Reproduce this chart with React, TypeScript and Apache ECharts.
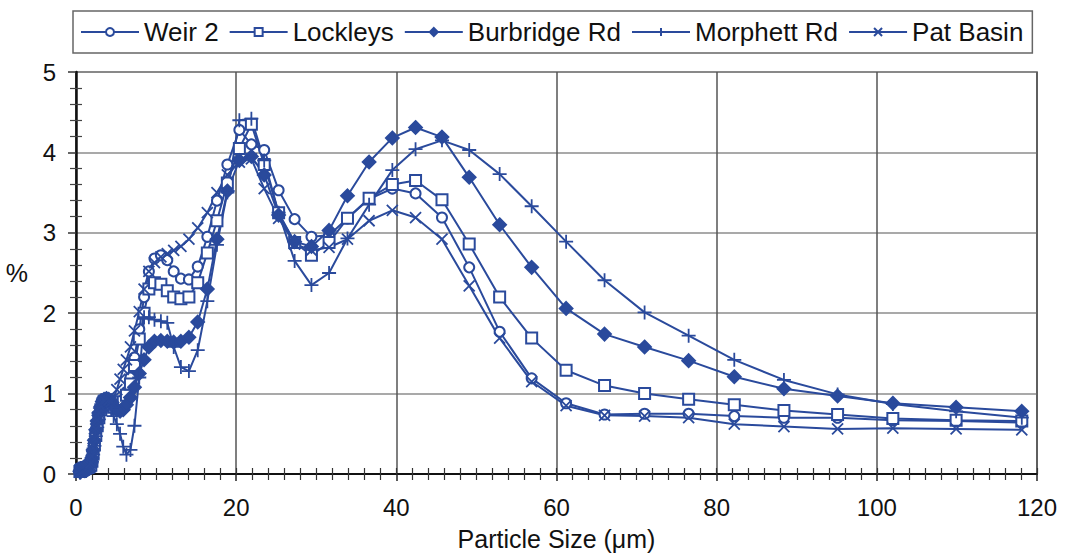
import React, { useEffect, useRef } from "react";
import * as echarts from "echarts";

// Particle size bins (µm)
const sizes: number[] = [
  0.5, 0.54, 0.58, 0.62, 0.67, 0.72, 0.78, 0.84, 0.9, 0.97,
  1.04, 1.12, 1.2, 1.29, 1.39, 1.49, 1.6, 1.72, 1.85, 1.99,
  2.14, 2.3, 2.47, 2.65, 2.85, 3.1, 3.3, 3.5, 3.8, 4.1,
  4.4, 4.7, 5.1, 5.5, 5.9, 6.3, 6.8, 7.3, 7.9, 8.5,
  9.1, 9.8, 10.6, 11.4, 12.2, 13.1, 14.1, 15.2, 16.4, 17.6,
  18.9, 20.4, 21.9, 23.5, 25.3, 27.3, 29.4, 31.6, 33.9, 36.6,
  39.5, 42.4, 45.7, 49.1, 52.9, 56.9, 61.2, 66.0, 71.0, 76.5,
  82.2, 88.4, 95.1, 102.0, 109.9, 118.1,
];

const weir2: number[] = [
  0.02, 0.03, 0.03, 0.04, 0.04, 0.05, 0.05, 0.05, 0.06, 0.06,
  0.06, 0.07, 0.07, 0.07, 0.08, 0.08, 0.09, 0.1, 0.12, 0.18,
  0.27, 0.38, 0.5, 0.62, 0.72, 0.82, 0.88, 0.92, 0.93, 0.9,
  0.87, 0.85, 0.84, 0.86, 0.92, 1.02, 1.2, 1.45, 1.8, 2.2,
  2.52, 2.68, 2.72, 2.66, 2.52, 2.43, 2.42, 2.58, 2.95, 3.4,
  3.85, 4.28, 4.1, 4.03, 3.53, 3.17, 2.95, 2.97, 3.18, 3.42,
  3.55, 3.49, 3.19, 2.57, 1.77, 1.19, 0.88, 0.74, 0.75, 0.75,
  0.72, 0.7, 0.7, 0.67, 0.66, 0.64,
];

const lockleys: number[] = [
  0.03, 0.03, 0.04, 0.04, 0.05, 0.05, 0.05, 0.06, 0.06, 0.06,
  0.07, 0.07, 0.07, 0.08, 0.08, 0.08, 0.09, 0.1, 0.11, 0.16,
  0.25, 0.36, 0.48, 0.6, 0.7, 0.8, 0.86, 0.9, 0.92, 0.9,
  0.86, 0.83, 0.82, 0.84, 0.9, 0.98, 1.12, 1.35, 1.68, 2.0,
  2.3, 2.38, 2.36, 2.28, 2.2, 2.18, 2.2, 2.38, 2.75, 3.15,
  3.62, 4.05, 4.35, 3.85, 3.25, 2.88, 2.72, 2.88, 3.18, 3.43,
  3.6, 3.65, 3.41, 2.86, 2.2, 1.69, 1.29, 1.1, 1.0, 0.93,
  0.86, 0.79, 0.74, 0.69, 0.67, 0.66,
];

const burbridge: number[] = [
  0.03, 0.04, 0.04, 0.05, 0.05, 0.06, 0.06, 0.06, 0.07, 0.07,
  0.07, 0.08, 0.08, 0.08, 0.09, 0.09, 0.1, 0.11, 0.13, 0.2,
  0.3, 0.42, 0.55, 0.66, 0.76, 0.84, 0.9, 0.93, 0.94, 0.92,
  0.88, 0.84, 0.8, 0.78, 0.8, 0.86, 0.95, 1.08, 1.25, 1.42,
  1.58, 1.65, 1.66, 1.65, 1.64, 1.65, 1.7, 1.89, 2.3, 2.92,
  3.52, 3.9, 3.95, 3.72, 3.22, 2.89, 2.83, 3.03, 3.46, 3.88,
  4.18, 4.31, 4.19, 3.69, 3.1, 2.57, 2.06, 1.74, 1.58, 1.41,
  1.21, 1.06, 0.97, 0.88, 0.83, 0.78,
];

const morphett: number[] = [
  0.02, 0.02, 0.03, 0.03, 0.04, 0.04, 0.04, 0.05, 0.05, 0.05,
  0.06, 0.06, 0.06, 0.07, 0.07, 0.08, 0.08, 0.09, 0.1, 0.15,
  0.24, 0.35, 0.47, 0.58, 0.68, 0.78, 0.85, 0.88, 0.88, 0.85,
  0.8, 0.72, 0.62, 0.5, 0.34, 0.24, 0.3, 0.6, 1.2, 1.95,
  1.95, 1.92, 1.9, 1.88, 1.58, 1.33, 1.28, 1.54, 2.15, 2.85,
  3.5, 4.4, 4.42, 3.9, 3.25, 2.65, 2.35, 2.5, 2.93, 3.35,
  3.78, 4.04, 4.15, 4.03, 3.73, 3.33, 2.89, 2.41, 2.01, 1.72,
  1.42, 1.17, 0.99, 0.87, 0.78, 0.7,
];

const patBasin: number[] = [
  0.02, 0.03, 0.03, 0.03, 0.04, 0.04, 0.05, 0.05, 0.05, 0.06,
  0.06, 0.06, 0.07, 0.07, 0.08, 0.08, 0.09, 0.11, 0.14, 0.22,
  0.32, 0.44, 0.56, 0.67, 0.76, 0.84, 0.89, 0.92, 0.93, 0.92,
  0.9, 0.95, 1.05, 1.18, 1.3, 1.42, 1.58, 1.78, 2.02, 2.3,
  2.52, 2.63, 2.7, 2.74, 2.78, 2.83, 2.92, 3.06, 3.25, 3.5,
  3.72, 3.88, 3.92, 3.55, 3.18, 2.86, 2.78, 2.82, 2.92, 3.15,
  3.28, 3.19, 2.92, 2.34, 1.69, 1.15, 0.85, 0.73, 0.72, 0.7,
  0.62, 0.59, 0.56, 0.57, 0.56, 0.55,
];

const seriesNames = ["Weir 2", "Lockleys", "Burbridge Rd", "Morphett Rd", "Pat Basin"];
const seriesValues = [weir2, lockleys, burbridge, morphett, patBasin];

const BLUE = "#2a4a9c";
const FONT = "'Liberation Sans', Arial, sans-serif";

const symbols = [
  { symbol: "emptyCircle", size: 10 },
  { symbol: "emptyRect", size: 11 },
  { symbol: "diamond", size: 13 },
  { symbol: "path://M5,0L5,10M0,5L10,5", size: 14 },
  { symbol: "path://M0,0L10,10M10,0L0,10", size: 11 },
];

export default function App() {
  const ref = useRef<HTMLDivElement>(null);
  useEffect(() => {
    if (!ref.current) return;
    const chart = echarts.init(ref.current, undefined, { renderer: "svg" });
    const series = seriesNames.map((name, k) => ({
      name,
      type: "line",
      xAxisIndex: 0,
      yAxisIndex: 0,
      data: sizes.map((x, i) => [x, seriesValues[k][i]]),
      symbol: symbols[k].symbol,
      symbolSize: symbols[k].size,
      showAllSymbol: true,
      lineStyle: { color: BLUE, width: 2 },
      itemStyle: { color: BLUE, borderColor: BLUE, borderWidth: 1.8 },
      emphasis: { disabled: true },
    }));
    chart.setOption({
      animation: false,
      backgroundColor: "#fff",
      legend: {
        data: seriesNames,
        left: 73,
        top: 11,
        orient: "horizontal",
        itemWidth: 58,
        itemHeight: 10,
        itemGap: 10,
        padding: [8, 9, 8, 7],
        borderColor: "#666",
        borderWidth: 1.5,
        backgroundColor: "#fff",
        textStyle: { fontSize: 26, fontFamily: FONT, color: "#111" },
      },
      grid: {
        left: 76,
        top: 72,
        right: 28,
        bottom: 82,
        show: true,
        borderColor: "#555",
        borderWidth: 1.5,
        backgroundColor: "transparent",
      },
      xAxis: [
        {
          type: "value",
          min: 0,
          max: 120,
          interval: 20,
          position: "bottom",
          name: "Particle Size (\u03bcm)",
          nameLocation: "middle",
          nameGap: 52,
          nameTextStyle: { fontSize: 25, fontFamily: FONT, color: "#111" },
          axisLine: { show: true, onZero: false, lineStyle: { color: "#111", width: 2 } },
          axisTick: { show: true, length: 7, lineStyle: { color: "#222", width: 1.5 } },
          minorTick: { show: true, splitNumber: 10, length: 6, lineStyle: { color: "#333", width: 1.2 } },
          axisLabel: { fontSize: 24, fontFamily: FONT, color: "#111", margin: 21 },
          splitLine: { show: true, lineStyle: { color: "#555", width: 1.5 } },
        },
        {
          type: "value",
          min: 0,
          max: 120,
          interval: 20,
          position: "bottom",
          axisLine: { show: false, onZero: false },
          axisTick: { show: true, inside: true, length: 6, lineStyle: { color: "#333", width: 1.2 } },
          minorTick: { show: true, splitNumber: 10, length: 6, lineStyle: { color: "#333", width: 1.2 } },
          axisLabel: { show: false },
          splitLine: { show: false },
        },
      ],
      yAxis: [
        {
          type: "value",
          min: 0,
          max: 5,
          interval: 1,
          position: "left",
          name: "%",
          nameLocation: "middle",
          nameRotate: 0,
          nameGap: 48,
          nameTextStyle: { fontSize: 25, fontFamily: FONT, color: "#111" },
          axisLine: { show: true, onZero: false, lineStyle: { color: "#111", width: 2.5 } },
          axisTick: { show: true, length: 8, lineStyle: { color: "#333", width: 1.5 } },
          minorTick: { show: true, splitNumber: 5, length: 6, lineStyle: { color: "#444", width: 1.2 } },
          axisLabel: { fontSize: 24, fontFamily: FONT, color: "#111", margin: 20 },
          splitLine: { show: true, lineStyle: { color: "#8c8c8c", width: 1.5 } },
        },
        {
          type: "value",
          min: 0,
          max: 5,
          interval: 1,
          position: "left",
          axisLine: { show: false, onZero: false },
          axisTick: { show: false, inside: true, length: 6 },
          minorTick: { show: true, splitNumber: 5, length: 6, lineStyle: { color: "#444", width: 1.2 } },
          axisLabel: { show: false },
          splitLine: { show: false },
        },
      ],
      series,
    });
    return () => chart.dispose();
  }, []);
  return (
    <div
      ref={ref}
      style={{ position: "fixed", left: 0, top: 0, width: 1065, height: 556 }}
    />
  );
}
